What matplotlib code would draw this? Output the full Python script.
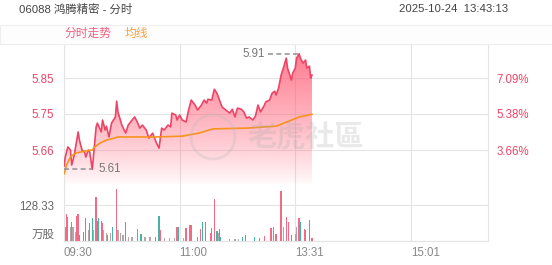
import numpy as np
import matplotlib
matplotlib.use("Agg")
import matplotlib.pyplot as plt
from matplotlib.patches import Rectangle, Ellipse

plt.rcParams['font.family'] = ['Liberation Sans', 'Noto Sans CJK SC']

# minute index from 09:30 (morning 0-150, afternoon 150-330)
price_idx = [0, 1, 3, 5, 6, 8, 11, 12, 14, 16, 17, 19, 20, 22, 25, 26, 29, 30, 32, 33,
             35, 37, 40, 41, 42, 45, 48, 50, 53, 55, 57, 59, 61, 64, 66, 69, 72, 74, 76, 78,
             81, 83, 84, 87, 88, 90, 92, 95, 97, 99, 102, 104, 107, 109, 111, 112, 115, 117, 119, 121,
             123, 126, 129, 131, 133, 135, 138, 140, 142, 144, 147, 149, 151, 153, 156, 157, 160, 162, 164, 165,
             167, 169, 171, 173, 174, 177, 178, 180, 181, 183, 184, 186, 188, 189, 191, 192, 193]
price = [5.618, 5.642, 5.668, 5.660, 5.621, 5.647, 5.707, 5.686, 5.660, 5.655, 5.642, 5.660, 5.655, 5.610, 5.720, 5.730, 5.707, 5.738, 5.712, 5.722,
         5.694, 5.730, 5.746, 5.787, 5.759, 5.725, 5.704, 5.725, 5.738, 5.746, 5.733, 5.717, 5.725, 5.712, 5.691, 5.704, 5.678, 5.665, 5.717, 5.712,
         5.725, 5.720, 5.756, 5.751, 5.738, 5.751, 5.738, 5.733, 5.764, 5.790, 5.777, 5.764, 5.777, 5.790, 5.782, 5.792, 5.790, 5.818, 5.808, 5.790,
         5.772, 5.764, 5.756, 5.766, 5.746, 5.769, 5.766, 5.759, 5.743, 5.746, 5.738, 5.748, 5.777, 5.759, 5.777, 5.785, 5.790, 5.808, 5.813, 5.803,
         5.821, 5.855, 5.876, 5.899, 5.873, 5.842, 5.860, 5.873, 5.899, 5.910, 5.899, 5.886, 5.894, 5.873, 5.878, 5.847, 5.855]

avg_idx = [0, 2, 5, 9, 16, 22, 24, 28, 33, 37, 42, 55, 71, 92, 105, 116, 142, 165, 175, 183, 193]
avg = [5.598, 5.621, 5.642, 5.652, 5.657, 5.660, 5.668, 5.678, 5.686, 5.689, 5.694, 5.694, 5.694, 5.696,
       5.704, 5.715, 5.717, 5.722, 5.735, 5.746, 5.753]

# volume (10k shares), colour: r up, t down, g mixed
vol_idx = [1, 2, 3, 5, 6, 7, 9, 10, 11, 12, 15, 17, 19, 20, 22, 23, 25, 26, 27, 29,
           30, 31, 33, 34, 36, 38, 41, 42, 44, 46, 48, 50, 53, 57, 60, 63, 67, 71, 74, 75,
           78, 82, 86, 88, 89, 93, 95, 98, 99, 104, 106, 108, 110, 114, 115, 117, 119, 120, 121, 122,
           129, 133, 136, 139, 141, 148, 152, 156, 161, 163, 165, 169, 171, 173, 175, 177, 180, 181, 183, 184,
           187, 188, 191, 193]
vol = [50, 96, 85, 50, 68, 50, 33, 90, 96, 21, 33, 81, 39, 63, 81, 39, 158, 73, 81, 73,
       63, 39, 27, 21, 27, 50, 185, 39, 27, 20, 68, 15, 15, 42, 25, 15, 15, 15, 89, 39,
       12, 10, 12, 50, 50, 12, 46, 57, 57, 15, 43, 68, 66, 30, 45, 150, 36, 30, 43, 13,
       8, 8, 8, 15, 20, 15, 12, 18, 48, 50, 25, 178, 51, 87, 66, 20, 25, 51, 81, 66,
       42, 40, 75, 10]
vol_dir = ['r', 'r', 'r', 'g', 'r', 'g', 'g', 'r', 'r', 't', 't', 't', 'g', 't', 't', 'g', 'r', 't', 't', 'r',
           'r', 'g', 'g', 't', 'g', 't', 'r', 'g', 'g', 'g', 't', 'g', 'g', 'r', 't', 'g', 'g', 't', 't', 'r',
           'g', 'g', 'g', 'r', 't', 'g', 'r', 'r', 'r', 't', 'r', 't', 't', 'r', 'r', 'r', 't', 'g', 't', 't',
           'g', 'g', 'g', 't', 't', 't', 'r', 'r', 'r', 'r', 'r', 'r', 'g', 'r', 'r', 't', 'g', 'g', 'r', 't',
           'r', 'r', 't', 'r']

time_ticks = [0, 90, 180, 270]
time_labels = ['09:30', '11:00', '13:31', '15:01']
price_ticks = [5.66, 5.7537, 5.847]
price_labels = ['5.66', '5.75', '5.85']
pct_labels = ['3.66%', '5.38%', '7.09%']
vol_tick = 128.33

RED = '#ee4466'
ORANGE = '#f7931e'
TEAL = '#26a69a'
GRID = '#e4e4e4'
W, H = 552, 265

fig = plt.figure(figsize=(5.52, 2.65), dpi=100)
fig.patch.set_facecolor('white')

def fx(px):
    return px / W

def fy(py):
    return 1 - py / H

# header
fig.text(fx(19), fy(9), '06088 鸿腾精密 - 分时', fontsize=8.2, color='#444444', va='center', ha='left')
fig.text(fx(508), fy(9), '2025-10-24  13:43:13', fontsize=8.2, color='#444444', va='center', ha='right')
fig.add_artist(Rectangle((0, fy(44)), 1, 19 / H, transform=fig.transFigure,
                         facecolor='#fdfdfd', edgecolor='#eeeeee', lw=0.8))
fig.text(fx(64), fy(34), '分时走势', fontsize=8.5, color='#f06080', va='center', ha='left')
fig.text(fx(125), fy(34), '均线', fontsize=8.5, color='#f5a040', va='center', ha='left')

ylo = 5.5665
yhi = 5.9357
ax = fig.add_axes([fx(64), fy(186), fx(424), 142 / H])
ax.set_xlim(0, 330)
ax.set_ylim(ylo, yhi)

# gradient fill under the price line
poly = ax.fill_between(price_idx, price, ylo, facecolor='none', edgecolor='none')
grad = np.zeros((100, 1, 4))
grad[:, 0, :3] = matplotlib.colors.to_rgb('#ff5a72')
grad[:, 0, 3] = 0.78 * np.linspace(1.0, 0.0, 100) ** 0.8
im = ax.imshow(grad, extent=[0, 330, ylo, max(price)], aspect='auto', origin='upper', zorder=1)
im.set_clip_path(poly.get_paths()[0], transform=ax.transData)

ax.plot(price_idx, price, color=RED, lw=1.2, zorder=3)
ax.plot(avg_idx, avg, color=ORANGE, lw=1.2, zorder=3)

# high / low marks
hi_i = price_idx[int(np.argmax(price))]
lo_i = price_idx[int(np.argmin(price))]
ax.plot([hi_i - 24, hi_i], [max(price)] * 2, color='#999999', lw=1.2, ls=(0, (3, 2)), zorder=4)
ax.text(hi_i - 27, max(price), '%.2f' % max(price), fontsize=8.3, color='#777777', ha='right', va='center')
ax.plot([0, lo_i], [min(price)] * 2, color='#999999', lw=1.2, ls=(0, (3, 2)), zorder=4)
ax.text(lo_i + 5, min(price), '%.2f' % min(price), fontsize=8.3, color='#777777', ha='left', va='center')

ax.set_yticks(price_ticks)
ax.set_yticklabels(price_labels, color=RED, fontsize=8.3)
ax.set_xticks(time_ticks)
ax.tick_params(axis='both', length=0, pad=7)
ax.tick_params(axis='x', labelbottom=False)
ax.grid(True, color=GRID, lw=0.8)
ax.set_axisbelow(True)
for s in ['left', 'right', 'top']:
    ax.spines[s].set_color(GRID)
ax.spines['bottom'].set_visible(False)

ax2 = ax.twinx()
ax2.set_ylim(ylo, yhi)
ax2.set_yticks(price_ticks)
ax2.set_yticklabels(pct_labels, color=RED, fontsize=8.3)
ax2.tick_params(length=0, pad=6)
for s in ax2.spines.values():
    s.set_visible(False)

# watermark
fig.add_artist(Ellipse((fx(213), fy(137)), 44 / W, 44 / H, transform=fig.transFigure,
                       facecolor='none', edgecolor='#bbbbbb', lw=2, alpha=0.3))
fig.text(fx(306), fy(137), '老虎社區', fontsize=21, color='#aaaaaa', alpha=0.25, ha='center', va='center',
         family=['Noto Sans CJK TC'], fontweight='bold')

# volume panel
axv = fig.add_axes([fx(64), fy(241), fx(424), 55 / H])
axv.set_xlim(0, 330)
axv.set_ylim(0, 196.1)
cmap = {'r': '#f0506e', 't': TEAL, 'g': '#a8959a'}
axv.bar(vol_idx, vol, width=1.0, color=[cmap[d] for d in vol_dir], alpha=0.85, zorder=2)
axv.set_xticks(time_ticks)
axv.set_xticklabels(time_labels, ha='left', fontsize=8.3, color='#888888')
axv.set_yticks([0, vol_tick])
ylabs = axv.set_yticklabels(['万股', '%.2f' % vol_tick], fontsize=8.3, color='#666666')
ylabs[0].set_va('bottom')
axv.tick_params(axis='both', length=0)
axv.tick_params(axis='y', pad=7)
axv.tick_params(axis='x', pad=4)
axv.grid(True, color=GRID, lw=0.8)
axv.set_axisbelow(True)
for s in ['left', 'right', 'bottom']:
    axv.spines[s].set_color(GRID)
axv.spines['top'].set_visible(False)

fig.savefig('out.png', dpi=100)
